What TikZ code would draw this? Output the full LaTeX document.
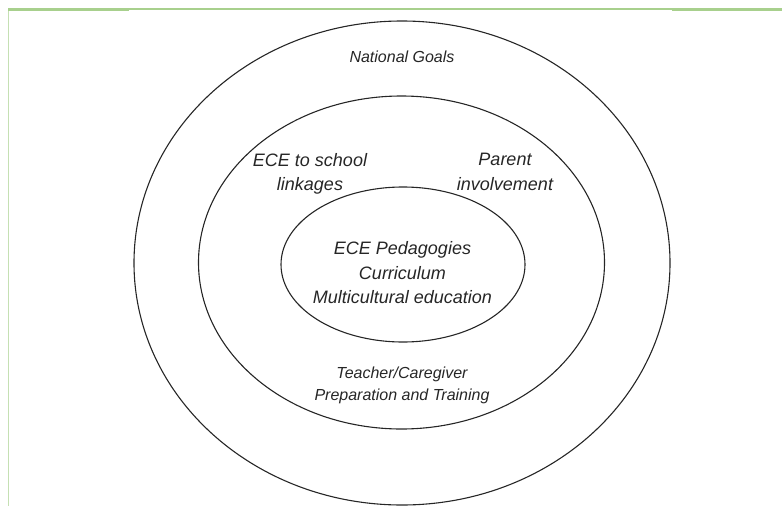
\documentclass[tikz,border=0pt]{standalone}
\usepackage{fontspec}
\setmainfont{Liberation Sans}
\usepackage{xcolor}
\definecolor{RuleGreen} {HTML}{A8D08D}
\definecolor{EdgeGreen} {HTML}{C5E0B3}
\definecolor{RingInk}   {HTML}{262626}
\usetikzlibrary{positioning}

\begin{document}
\begin{tikzpicture}[x=1pt,y=-1pt,
  ring/.style={draw=RingInk,line width=1.1pt},
  level/.style={font=\itshape\fontsize{18}{24.5}\selectfont,
    text=RingInk,align=center,inner sep=0pt},
  outerlevel/.style={font=\itshape\fontsize{16}{22}\selectfont,
    text=RingInk,align=center,inner sep=0pt}]
  \useasboundingbox (0,0) rectangle (782,506);
  % page rules
  \draw[EdgeGreen,line width=1.5pt] (8.7,9) -- (8.7,506);
  \draw[RuleGreen,line width=2.3pt] (8,9.2) -- (782,9.2);
  \draw[RuleGreen,line width=3.3pt] (8,9.7) -- (129,9.7);
  \draw[RuleGreen,line width=3.3pt] (672,9.7) -- (782,9.7);
  % the three rings
  \draw[ring] (402,263) ellipse [x radius=268,y radius=242];
  \draw[ring] (401.5,262.5) ellipse [x radius=203,y radius=166.5];
  \draw[ring] (403,264.5) ellipse [x radius=122,y radius=77.5];
  % ring labels
  \node[outerlevel](NG) at (402,57) {National Goals};
  \node[level](SL) at (310,174) {ECE to school\\linkages};
  \node[level](PI) at (505,172) {Parent\\involvement};
  \node[level](PC) at (402.5,273) {ECE Pedagogies\\Curriculum\\Multicultural education};
  \node[outerlevel](TC) at (402,385) {Teacher/Caregiver\\Preparation and Training};
\end{tikzpicture}
\end{document}
